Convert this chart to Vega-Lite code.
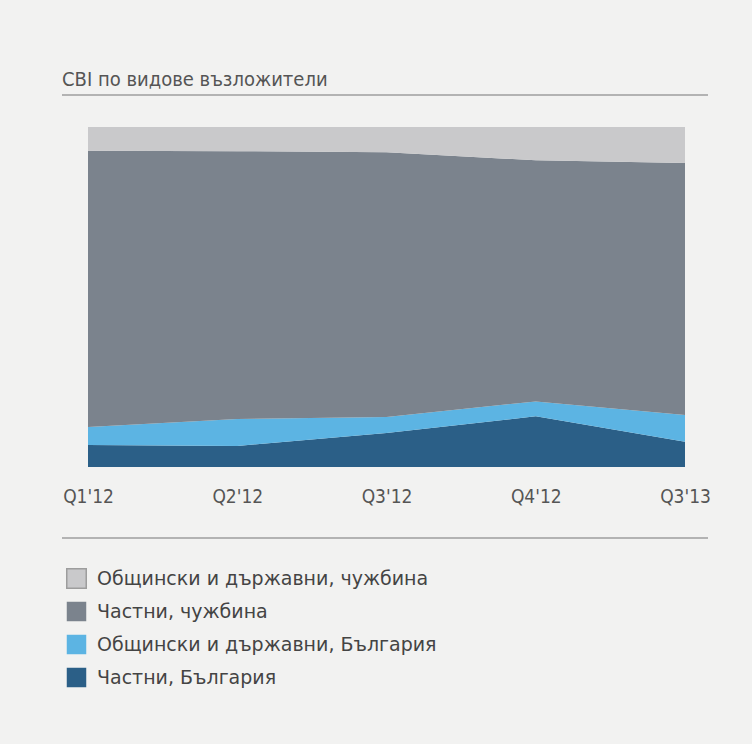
{
  "$schema": "https://vega.github.io/schema/vega-lite/v6.json",
  "autosize": "none",
  "width": 597,
  "height": 340,
  "padding": {"left": 88, "top": 127, "right": 67, "bottom": 277},
  "background": "#f2f2f1",
  "config": {"view": {"stroke": null}, "font": "DejaVu Sans"},
  "title": {
    "text": "СВІ по видове възложители",
    "anchor": "start",
    "frame": "group",
    "dx": -26,
    "offset": 38,
    "dy": 34,
    "fontSize": 20,
    "fontWeight": "normal",
    "color": "#555555",
    "font": "DejaVu Sans Condensed"
  },
  "data": {
    "values": [
      {"idx": 0, "period": "Q1'12", "series": "Частни, България", "rank": 1, "value": 6.5},
      {"idx": 0, "period": "Q1'12", "series": "Общински и държавни, България", "rank": 2, "value": 5.3},
      {"idx": 0, "period": "Q1'12", "series": "Частни, чужбина", "rank": 3, "value": 81.2},
      {"idx": 0, "period": "Q1'12", "series": "Общински и държавни, чужбина", "rank": 4, "value": 7.0},
      {"idx": 1, "period": "Q2'12", "series": "Частни, България", "rank": 1, "value": 6.2},
      {"idx": 1, "period": "Q2'12", "series": "Общински и държавни, България", "rank": 2, "value": 7.9},
      {"idx": 1, "period": "Q2'12", "series": "Частни, чужбина", "rank": 3, "value": 78.8},
      {"idx": 1, "period": "Q2'12", "series": "Общински и държавни, чужбина", "rank": 4, "value": 7.1},
      {"idx": 2, "period": "Q3'12", "series": "Частни, България", "rank": 1, "value": 10.0},
      {"idx": 2, "period": "Q3'12", "series": "Общински и държавни, България", "rank": 2, "value": 4.7},
      {"idx": 2, "period": "Q3'12", "series": "Частни, чужбина", "rank": 3, "value": 77.9},
      {"idx": 2, "period": "Q3'12", "series": "Общински и държавни, чужбина", "rank": 4, "value": 7.4},
      {"idx": 3, "period": "Q4'12", "series": "Частни, България", "rank": 1, "value": 14.9},
      {"idx": 3, "period": "Q4'12", "series": "Общински и държавни, България", "rank": 2, "value": 4.4},
      {"idx": 3, "period": "Q4'12", "series": "Частни, чужбина", "rank": 3, "value": 70.9},
      {"idx": 3, "period": "Q4'12", "series": "Общински и държавни, чужбина", "rank": 4, "value": 9.8},
      {"idx": 4, "period": "Q3'13", "series": "Частни, България", "rank": 1, "value": 7.4},
      {"idx": 4, "period": "Q3'13", "series": "Общински и държавни, България", "rank": 2, "value": 7.9},
      {"idx": 4, "period": "Q3'13", "series": "Частни, чужбина", "rank": 3, "value": 74.1},
      {"idx": 4, "period": "Q3'13", "series": "Общински и държавни, чужбина", "rank": 4, "value": 10.6}
    ]
  },
  "layer": [
    {
      "mark": {"type": "area", "interpolate": "linear"},
      "encoding": {
        "x": {
          "field": "idx",
          "type": "quantitative",
          "scale": {"domain": [0, 4], "nice": false, "zero": false},
          "axis": {
            "values": [0, 1, 2, 3, 4],
            "labelExpr": "[\"Q1'12\",\"Q2'12\",\"Q3'12\",\"Q4'12\",\"Q3'13\"][datum.value]",
            "title": null,
            "domain": false,
            "ticks": false,
            "grid": false,
            "labelFlush": false,
            "labelOverlap": false,
            "labelPadding": 20,
            "labelFontSize": 19,
            "labelColor": "#555555",
            "labelFont": "DejaVu Sans Condensed"
          }
        },
        "y": {
          "field": "value",
          "type": "quantitative",
          "stack": "normalize",
          "scale": {"domain": [0, 1], "nice": false},
          "axis": null
        },
        "order": {"field": "rank", "type": "quantitative", "sort": "ascending"},
        "color": {
          "field": "series",
          "type": "nominal",
          "scale": {
            "domain": ["Общински и държавни, чужбина", "Частни, чужбина", "Общински и държавни, България", "Частни, България"],
            "range": ["#c9c9cb", "#7b838d", "#5cb4e3", "#2b5f87"]
          },
          "legend": {
            "title": null,
            "orient": "none",
            "legendX": -22,
            "legendY": 441,
            "direction": "vertical",
            "symbolType": "square",
            "symbolSize": 380,
            "symbolOpacity": 1,
            "labelFontSize": 19,
            "labelColor": "#444444",
            "labelFont": "DejaVu Sans",
            "labelOffset": 10,
            "rowPadding": 6,
            "labelLimit": 500,
            "encode": {
              "symbols": {
                "update": {
                  "stroke": {"signal": "datum.value == 'Общински и държавни, чужбина' ? '#9d9d9d' : 'transparent'"},
                  "strokeWidth": {"value": 1.5}
                }
              }
            }
          }
        }
      }
    },
    {
      "mark": {"type": "rule", "color": "#b3b3b3", "strokeWidth": 1.5},
      "encoding": {
        "x": {"datum": -0.174},
        "x2": {"datum": 4.154},
        "y": {"datum": 1.094}
      }
    },
    {
      "mark": {"type": "rule", "color": "#b3b3b3", "strokeWidth": 1.5},
      "encoding": {
        "x": {"datum": -0.174},
        "x2": {"datum": 4.154},
        "y": {"datum": -0.209}
      }
    }
  ]
}
